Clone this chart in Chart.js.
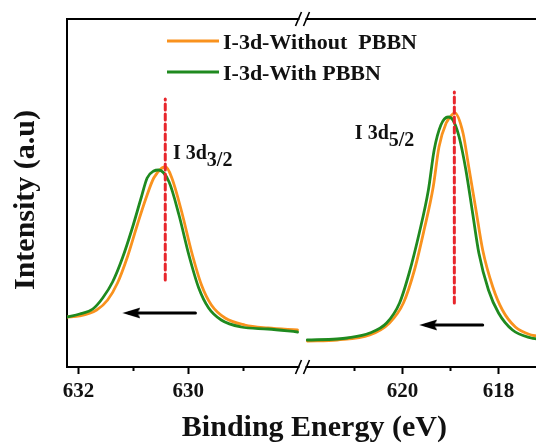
<!DOCTYPE html>
<html><head><meta charset="utf-8">
<script src="https://cdn.jsdelivr.net/npm/chart.js@4/dist/chart.umd.min.js"></script>
<style>
html,body{margin:0;padding:0;overflow:hidden;background:#fff;width:536px;height:443px;}
#wrap{position:absolute;left:0;top:0;width:542px;height:443px;}
</style></head><body>
<div id="wrap"><canvas id="c" width="542" height="443"></canvas></div>
<script>
// ---------- data ----------
const seriesLabels = ['I-3d-Without  PBBN', 'I-3d-With PBBN'];

// I 3d3/2 region (left axis segment)
const e32Without = [632.21, 631.98, 631.67, 631.47, 631.29, 631.11, 630.93, 630.77, 630.63, 630.48, 630.41, 630.30, 630.12, 629.94, 629.76, 629.58, 629.33, 628.97, 628.55, 628.01];
const i32Without = [50, 51, 57, 67, 84, 110, 142, 169, 189, 199, 200, 189, 155, 115, 82, 62, 49, 42, 39, 37];
const e32With    = [632.21, 631.98, 631.74, 631.56, 631.38, 631.20, 631.02, 630.86, 630.75, 630.63, 630.54, 630.35, 630.17, 629.99, 629.81, 629.63, 629.40, 629.04, 628.55, 628.01];
const i32With    = [50, 53, 58, 69, 85, 109, 139, 169, 189, 196, 197, 185, 152, 112, 79, 59, 47, 40, 38, 35];

// I 3d5/2 region (right axis segment)
const e52Without = [621.98, 621.36, 620.68, 620.27, 619.98, 619.75, 619.55, 619.36, 619.24, 619.09, 618.95, 618.91, 618.74, 618.62, 618.47, 618.33, 618.12, 617.92, 617.65, 617.32, 617.20];
const i52Without = [26, 27, 32, 44, 64, 97, 137, 180, 220, 244, 253, 254, 234, 200, 157, 117, 80, 57, 40, 32, 31];
const e52With    = [621.98, 621.36, 621.15, 620.68, 620.33, 620.06, 619.86, 619.65, 619.46, 619.34, 619.20, 619.05, 618.95, 618.82, 618.68, 618.54, 618.41, 618.21, 618.00, 617.71, 617.32, 617.20];
const i52With    = [27, 28, 29, 34, 44, 64, 94, 134, 177, 217, 242, 250, 247, 230, 197, 154, 114, 77, 54, 37, 29, 28];

// axis ranges and ticks
const leftRange = [627.92, 632.21];
const rightRange = [617.20, 622.08];
const intensityRange = [0, 348];
const leftTicks = [632, 631, 630, 629];
const rightTicks = [621, 620, 619, 618];
const labeledTicks = [632, 630, 620, 618];

// peak markers (dashed lines), shift arrows, peak labels
const peakCenters = [630.42, 618.92];
const peakLineTop = [268, 275];
const peakLineBottom = [87, 64];
const arrowTail = [629.87, 618.33];
const arrowHead = [631.20, 619.65];
const arrowLevel = [54, 42];
const peakLabelMain = ['I 3d', 'I 3d'];
const peakLabelSub = ['3/2', '5/2'];
const peakLabelEnergy = [630.28, 620.99];
const peakLabelLevel = [208, 228];

// ---------- helpers ----------
const pts = (xs, ys) => xs.map((x, i) => ({x: x, y: ys[i]}));
const ORANGE = '#F9921E', GREEN = '#1F8A1F', RED = '#E8262C', INK = '#111';
const FONT = '"Liberation Serif", "Times New Roman", serif';

// arrow head image (tip at image centre, pointing left)
const head = document.createElement('canvas');
head.width = 36; head.height = 12;
(function(){ const g = head.getContext('2d'); g.fillStyle = '#000'; g.beginPath(); g.moveTo(18, 6); g.lineTo(36, 0.5); g.lineTo(33, 6); g.lineTo(36, 11.5); g.closePath(); g.fill(); })();

const curve = (label, data, color, xid, order) => ({
  label, data, borderColor: color, backgroundColor: color, borderWidth: 2.8,
  pointRadius: 0, cubicInterpolationMode: 'monotone', xAxisID: xid, yAxisID: 'y', order
});
const datasets = [
  curve(seriesLabels[0], pts(e32Without, i32Without), ORANGE, 'xL', 2),
  curve(seriesLabels[1], pts(e32With, i32With), GREEN, 'xL', 1),
  curve(seriesLabels[0], pts(e52Without, i52Without), ORANGE, 'xR', 2),
  curve(seriesLabels[1], pts(e52With, i52With), GREEN, 'xR', 1)
];
['xL', 'xR'].forEach((xid, k) => {
  datasets.push({
    label: 'peak', data: [{x: peakCenters[k], y: peakLineBottom[k]}, {x: peakCenters[k], y: peakLineTop[k]}],
    borderColor: RED, borderWidth: 3, borderDash: [6, 4], pointRadius: 0, xAxisID: xid, yAxisID: 'y', order: 0
  });
  datasets.push({
    label: 'shift', data: [{x: arrowTail[k], y: arrowLevel[k]}, {x: arrowHead[k] - 0.12 * (k === 0 ? 1 : 1.15), y: arrowLevel[k]}],
    borderColor: '#000', borderWidth: 3, pointRadius: 0, xAxisID: xid, yAxisID: 'y', order: 0
  });
  datasets.push({
    label: 'shiftHead', data: [{x: arrowHead[k], y: arrowLevel[k]}],
    showLine: false, pointStyle: head, pointRadius: 3, xAxisID: xid, yAxisID: 'y', order: 0
  });
});

const decor = {
  id: 'decor',
  afterDatasetsDraw(chart) {
    const ctx = chart.ctx, y = chart.scales.y;
    const segs = [chart.scales.xL, chart.scales.xR];
    ctx.save();
    ctx.fillStyle = INK; ctx.textAlign = 'left'; ctx.textBaseline = 'alphabetic';
    ctx.font = 'bold 20px ' + FONT;
    segs.forEach((sc, k) => {
      const px = sc.getPixelForValue(peakLabelEnergy[k]);
      const py = y.getPixelForValue(peakLabelLevel[k]);
      ctx.fillText(peakLabelMain[k], px, py);
      const w = ctx.measureText(peakLabelMain[k]).width;
      ctx.fillText(peakLabelSub[k], px + w, py + 7);
    });
    ctx.restore();
  },
  afterDraw(chart) {
    const ctx = chart.ctx, a = chart.chartArea;
    const bx = chart.scales.xL.right;
    ctx.save();
    [a.top, a.bottom].forEach(yb => {
      ctx.fillStyle = '#fff';
      ctx.fillRect(bx - 3, yb - 2, 6, 4);
      ctx.strokeStyle = '#000'; ctx.lineWidth = 1.6;
      ctx.beginPath();
      ctx.moveTo(bx - 7, yb + 7); ctx.lineTo(bx - 1, yb - 7);
      ctx.moveTo(bx + 1, yb + 7); ctx.lineTo(bx + 7, yb - 7);
      ctx.stroke();
    });
    // legend
    const colors = [ORANGE, GREEN];
    ctx.font = 'bold 22px ' + FONT; ctx.textBaseline = 'middle'; ctx.textAlign = 'left';
    seriesLabels.forEach((t, i) => {
      const ly = 41 + 31 * i;
      ctx.strokeStyle = colors[i]; ctx.lineWidth = 3;
      ctx.beginPath(); ctx.moveTo(167, ly); ctx.lineTo(219, ly); ctx.stroke();
      ctx.fillStyle = INK; ctx.fillText(t, 223, ly + 2);
    });
    ctx.restore();
  }
};

const noPad = s => { s.paddingLeft = 0; s.paddingRight = 0; s.paddingTop = 0; s.paddingBottom = 0; };
const tickFont = {family: FONT, size: 21, weight: 'bold'};
const segAxis = (range, tickList, weight) => ({
  type: 'linear', position: 'bottom', stack: 'x', stackWeight: weight, reverse: true,
  min: range[0], max: range[1],
  afterBuildTicks: s => { s.ticks = tickList.map(v => ({value: v})); },
  afterFit: s => { s.height = 40; noPad(s); },
  ticks: { autoSkip: false, maxRotation: 0, padding: 5, color: INK, font: tickFont,
    callback: v => labeledTicks.includes(v) ? String(v) : '' },
  grid: { drawOnChartArea: false, drawTicks: true, tickLength: 7, tickWidth: 2, tickColor: '#000',
    tickBorderDash: c => (c.tick && labeledTicks.includes(c.tick.value)) ? [] : [3, 20] },
  border: { display: true, color: '#000', width: 2 }
});
const blank = (pos, stack, sw, w, fit) => ({
  type: 'linear', position: pos, stack: stack, stackWeight: sw, weight: w, min: 0, max: 1,
  ticks: {display: false}, grid: {display: false, drawTicks: false}, border: {display: false},
  afterFit: s => { fit(s); noPad(s); }
});

const scales = {
  xL: segAxis(leftRange, leftTicks, 238),
  xR: segAxis(rightRange, rightTicks, 237),
  xPad: blank('bottom', 'xt', 25, 1, s => { s.height = 36; }),
  xTitle: Object.assign(blank('bottom', 'xt', 450, 1, s => { s.height = 36; }), {
    title: {display: true, text: 'Binding Energy (eV)', color: INK,
      font: {family: FONT, size: 30, weight: 'bold'}, padding: {top: 0, bottom: -3}}
  }),
  xTop: {
    type: 'linear', position: 'top', min: 0, max: 1,
    ticks: {display: false}, grid: {display: false, drawTicks: false},
    border: {display: true, color: '#000', width: 2},
    afterFit: s => { s.height = 19; noPad(s); }
  },
  y: {
    type: 'linear', position: 'left', min: intensityRange[0], max: intensityRange[1], weight: 0,
    ticks: {display: false}, grid: {display: false, drawTicks: false},
    border: {display: true, color: '#000', width: 2},
    afterFit: s => { s.width = 0; noPad(s); }
  },
  yPad: blank('left', 'yt', 14, 2, s => { s.width = 67; }),
  yTitle: Object.assign(blank('left', 'yt', 334, 1.5, s => { s.width = 67; }), {
    title: {display: true, text: 'Intensity (a.u)', color: INK,
      font: {family: FONT, size: 30, weight: 'bold'}, padding: {top: 8, bottom: 0}}
  })
};

new Chart(document.getElementById('c'), {
  type: 'line',
  data: { datasets },
  options: {
    responsive: false, animation: false, parsing: true,
    layout: { padding: 0 },
    plugins: { legend: {display: false}, tooltip: {enabled: false} },
    elements: { line: { borderCapStyle: 'round' } },
    scales
  },
  plugins: [decor]
});
</script>
</body></html>
